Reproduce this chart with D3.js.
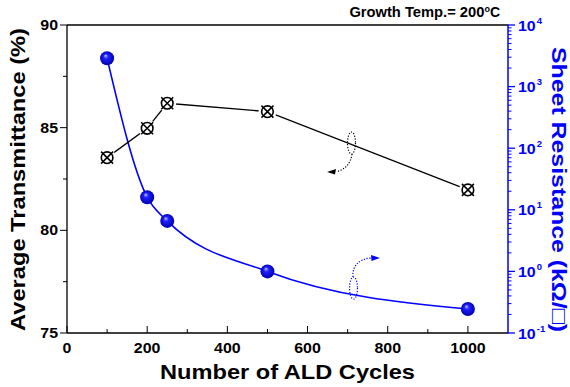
<!DOCTYPE html>
<html><head><meta charset="utf-8">
<script src="https://cdn.jsdelivr.net/npm/d3@7"></script>
<style>body{margin:0;background:#fff}svg{display:block}text{font-family:"Liberation Sans",Arial,"DejaVu Sans",sans-serif;font-weight:bold}</style>
</head><body><div id="c"></div>
<script>
const cycles = [100, 200, 250, 500, 1000];
const transmittance = [83.54, 84.97, 86.19, 85.78, 81.97];
const sheetResistance = [2880, 16, 6.6, 1.0, 0.245];
const xTicks = [0, 200, 400, 600, 800, 1000];
const yLeftTicks = [75, 80, 85, 90];
const yRightExps = [-1, 0, 1, 2, 3, 4];

const W = 570, H = 387;
const m = {l: 67, r: 62, t: 25, b: 54};
const svg = d3.select("#c").append("svg").attr("width", W).attr("height", H);
const x = d3.scaleLinear().domain([0, 1100]).range([m.l, W - m.r]);
const yL = d3.scaleLinear().domain([75, 90]).range([H - m.b, m.t]);
const yR = d3.scaleLog().domain([0.1, 10000]).range([H - m.b, m.t]);

const defs = svg.append("defs");
const g = defs.append("radialGradient").attr("id", "ball").attr("cx", "50%").attr("cy", "50%").attr("r", "50%").attr("fx", "38%").attr("fy", "30%");
g.append("stop").attr("offset", "0%").attr("stop-color", "#c0c0ff");
g.append("stop").attr("offset", "35%").attr("stop-color", "#2020ff");
g.append("stop").attr("offset", "100%").attr("stop-color", "#0000b0");

const blue = "#0000ff";
const TFS = 14.5, wide = 1.1;
const tw = s => String(s).length * 0.556 * TFS * wide;

// frame top
svg.append("line").attr("x1", m.l).attr("x2", W - m.r).attr("y1", m.t).attr("y2", m.t).attr("stroke", "#000").attr("stroke-width", 1.3);

// bottom axis (ticks inward)
const xa = svg.append("g").attr("transform", `translate(0,${H - m.b})`);
xa.append("line").attr("x1", m.l).attr("x2", W - m.r).attr("stroke", "#000").attr("stroke-width", 1.3);
d3.range(100, 1100, 200).forEach(v => xa.append("line").attr("x1", x(v)).attr("x2", x(v)).attr("y1", 0).attr("y2", -4).attr("stroke", "#000"));
xTicks.forEach(v => {
  xa.append("line").attr("x1", x(v)).attr("x2", x(v)).attr("y1", 0).attr("y2", -7).attr("stroke", "#000");
  xa.append("text").attr("x", x(v)).attr("y", 20).attr("text-anchor", "middle").attr("font-size", TFS)
    .attr("textLength", tw(v)).attr("lengthAdjust", "spacingAndGlyphs").text(v);
});

// left axis (ticks outward)
const la = svg.append("g").attr("transform", `translate(${m.l},0)`);
la.append("line").attr("y1", m.t).attr("y2", H - m.b).attr("stroke", "#000").attr("stroke-width", 1.3);
[77.5, 82.5, 87.5].forEach(v => la.append("line").attr("x1", 0).attr("x2", -4).attr("y1", yL(v)).attr("y2", yL(v)).attr("stroke", "#000"));
yLeftTicks.forEach(v => {
  la.append("line").attr("x1", 0).attr("x2", -7).attr("y1", yL(v)).attr("y2", yL(v)).attr("stroke", "#000");
  la.append("text").attr("x", -9).attr("y", yL(v) + 5).attr("text-anchor", "end").attr("font-size", TFS)
    .attr("textLength", tw(v)).attr("lengthAdjust", "spacingAndGlyphs").text(v);
});

// right axis (log, blue, ticks outward)
const ra = svg.append("g").attr("transform", `translate(${W - m.r},0)`);
ra.append("line").attr("y1", m.t).attr("y2", H - m.b).attr("stroke", blue).attr("stroke-width", 1.5);
for (let e = -1; e < 4; e++) {
  for (let k = 2; k <= 9; k++) {
    const v = k * Math.pow(10, e);
    ra.append("line").attr("x1", 0).attr("x2", 3.5).attr("y1", yR(v)).attr("y2", yR(v)).attr("stroke", blue);
  }
}
yRightExps.forEach(e => {
  const yy = yR(Math.pow(10, e));
  ra.append("line").attr("x1", 0).attr("x2", 7).attr("y1", yy).attr("y2", yy).attr("stroke", blue).attr("stroke-width", 1.3);
  const t = ra.append("text").attr("x", 10).attr("y", yy + 5.5).attr("fill", blue).attr("font-size", TFS);
  t.append("tspan").attr("textLength", tw("10")).attr("lengthAdjust", "spacingAndGlyphs").text("10");
  t.append("tspan").attr("dx", 1).attr("dy", -7).attr("font-size", 9.5).text(e);
});

// axis titles
svg.append("text").attr("transform", `translate(${25},${179.5}) rotate(-90)`).attr("text-anchor", "middle").attr("font-size", 20)
  .attr("textLength", 303).attr("lengthAdjust", "spacingAndGlyphs").text("Average Transmittance (%)");
svg.append("text").attr("x", (m.l + W - m.r) / 2).attr("y", 378.5).attr("text-anchor", "middle").attr("font-size", 21)
  .attr("textLength", 255).attr("lengthAdjust", "spacingAndGlyphs").text("Number of ALD Cycles");
svg.append("text").attr("transform", `translate(${552},${189.5}) rotate(90)`).attr("text-anchor", "middle").attr("font-size", 21).attr("fill", blue)
  .attr("textLength", 285).attr("lengthAdjust", "spacingAndGlyphs").text("Sheet Resistance (kΩ/□)");

// title
const tt = svg.append("text").attr("x", 500).attr("y", 17).attr("text-anchor", "end").attr("font-size", 14);
tt.append("tspan").attr("textLength", 135).attr("lengthAdjust", "spacingAndGlyphs").text("Growth Temp.= 200");
tt.append("tspan").attr("dy", -5).attr("font-size", 9).text("o");
tt.append("tspan").attr("dy", 5).text("C");

// blue curve
const bdata = cycles.map((c, i) => [c, sheetResistance[i]]);
svg.append("path").datum(bdata).attr("fill", "none").attr("stroke", blue).attr("stroke-width", 1.6)
  .attr("d", d3.line().x(d => x(d[0])).y(d => yR(d[1])).curve(d3.curveMonotoneX));

// black line
const tdata = cycles.map((c, i) => [c, transmittance[i]]);
svg.append("path").datum(tdata).attr("fill", "none").attr("stroke", "#000").attr("stroke-width", 1.3)
  .attr("d", d3.line().x(d => x(d[0])).y(d => yL(d[1])));

// black markers
const mk = svg.append("g").selectAll("g").data(tdata).join("g").attr("transform", d => `translate(${x(d[0])},${yL(d[1])})`);
mk.append("circle").attr("r", 9).attr("fill", "#fff");
mk.append("circle").attr("r", 5.8).attr("fill", "none").attr("stroke", "#000").attr("stroke-width", 1.6);
mk.append("path").attr("d", "M-6,-6L6,6M-6,6L6,-6").attr("stroke", "#000").attr("stroke-width", 1.5);

// blue markers
svg.append("g").selectAll("circle").data(bdata).join("circle")
  .attr("cx", d => x(d[0])).attr("cy", d => yR(d[1])).attr("r", 7).attr("fill", "url(#ball)");

// annotations
const ann = svg.append("g").attr("fill", "none").attr("stroke-dasharray", "1.2,1.6").attr("stroke-width", 1.2);
ann.append("ellipse").attr("cx", 351.5).attr("cy", 143).attr("rx", 4).attr("ry", 11).attr("stroke", "#000");
ann.append("path").attr("d", "M352,154 C351,164 344,170 337,171.5").attr("stroke", "#000");
svg.append("path").attr("d", "M327,172 L336,169 L335,174.5 Z").attr("fill", "#000");
ann.append("ellipse").attr("cx", 353.5).attr("cy", 288).attr("rx", 4).attr("ry", 11).attr("stroke", blue);
ann.append("path").attr("d", "M353,277 C352,267 358,259 371,258").attr("stroke", blue);
svg.append("path").attr("d", "M380,258 L371,255 L371.5,261 Z").attr("fill", blue);
</script></body></html>
